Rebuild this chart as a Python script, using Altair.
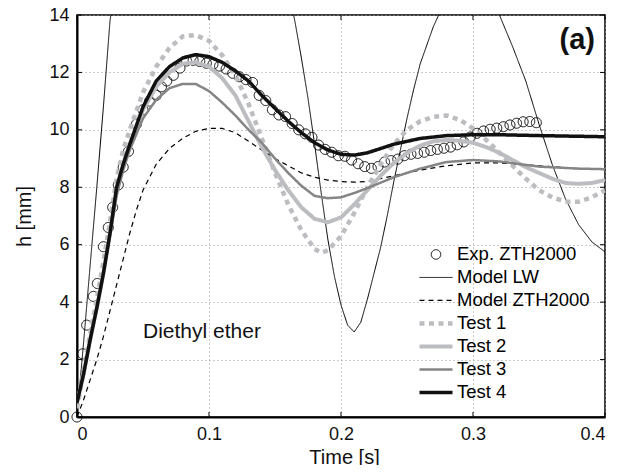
import altair as alt
import pandas as pd

# ---------------- data ----------------
series_names = ["Exp. ZTH2000", "Model LW", "Model ZTH2000", "Test 1", "Test 2", "Test 3", "Test 4"]

t_exp = [0, 0.0043, 0.0073, 0.0124, 0.0154, 0.020, 0.0237, 0.027, 0.0313, 0.035, 0.039, 0.045, 0.050,
         0.055, 0.060, 0.064, 0.068, 0.073, 0.078, 0.083, 0.088, 0.093, 0.098, 0.103, 0.108, 0.113,
         0.118, 0.123, 0.128, 0.133, 0.138, 0.143, 0.148, 0.153, 0.158, 0.163, 0.168, 0.173, 0.178,
         0.183, 0.188, 0.193, 0.198, 0.203, 0.208, 0.213, 0.218, 0.223, 0.228, 0.233, 0.238, 0.243,
         0.248, 0.253, 0.258, 0.263, 0.268, 0.273, 0.278, 0.283, 0.288, 0.293, 0.298, 0.303, 0.308,
         0.313, 0.318, 0.323, 0.328, 0.333, 0.338, 0.343, 0.348]
h_exp = [0.0, 2.2, 3.2, 4.2, 4.65, 5.93, 6.6, 7.3, 8.08, 8.7, 9.25, 10.2, 10.7,
         11.0, 11.2, 11.5, 11.7, 11.9, 12.15, 12.4, 12.42, 12.38, 12.32, 12.28, 12.22, 12.12,
         11.97, 11.85, 11.75, 11.65, 11.2, 11.02, 10.7, 10.52, 10.46, 10.22, 10.0, 9.86, 9.74,
         9.47, 9.32, 9.22, 9.1, 9.08, 8.95, 8.82, 8.72, 8.66, 8.72, 8.88, 8.93, 8.98,
         9.1, 9.15, 9.18, 9.22, 9.28, 9.32, 9.36, 9.4, 9.48, 9.58, 9.75, 9.88, 9.96,
         10.02, 10.06, 10.11, 10.17, 10.23, 10.28, 10.29, 10.25]

t_lw = [0, 0.005, 0.01, 0.015, 0.02, 0.025, 0.03, 0.04, 0.05, 0.06, 0.07, 0.08, 0.09, 0.1, 0.11,
        0.12, 0.13, 0.14, 0.15, 0.16, 0.165, 0.17, 0.175, 0.18, 0.185, 0.19, 0.195, 0.2, 0.205,
        0.21, 0.215, 0.22, 0.225, 0.23, 0.235, 0.24, 0.245, 0.25, 0.255, 0.26, 0.27, 0.28, 0.29,
        0.3, 0.31, 0.32, 0.33, 0.34, 0.35, 0.36, 0.37, 0.38, 0.39, 0.4]
h_lw = [0.0, 2.6, 5.3, 8.0, 10.8, 13.8, 15.3, 16.8, 18.0, 19.0, 19.8, 20.3, 20.5, 20.4, 20.0,
        19.4, 18.6, 17.6, 16.4, 14.9, 13.8, 12.5, 11.1, 9.5, 7.8, 6.2, 4.9, 3.9, 3.2,
        2.96, 3.3, 4.1, 5.0, 5.9, 7.0, 8.2, 9.3, 10.4, 11.4, 12.3, 13.6, 14.6, 15.1,
        15.2, 14.9, 14.0, 12.9, 11.7, 10.2, 8.8, 7.6, 6.7, 6.1, 5.75]

t_zth = [0, 0.005, 0.01, 0.015, 0.02, 0.025, 0.03, 0.035, 0.04, 0.045, 0.05, 0.06, 0.07, 0.08,
         0.09, 0.1, 0.11, 0.12, 0.13, 0.14, 0.15, 0.16, 0.17, 0.18, 0.19, 0.2, 0.21, 0.22, 0.24,
         0.26, 0.28, 0.3, 0.32, 0.35, 0.38, 0.4]
h_zth = [0.0, 0.6, 1.3, 2.0, 2.8, 3.7, 4.6, 5.5, 6.4, 7.2, 7.9, 8.8, 9.35, 9.7,
         9.95, 10.05, 10.05, 9.9, 9.6, 9.3, 9.0, 8.75, 8.5, 8.35, 8.25, 8.2, 8.18, 8.2, 8.4,
         8.6, 8.75, 8.85, 8.85, 8.75, 8.65, 8.62]

t_t1 = [0, 0.005, 0.01, 0.015, 0.02, 0.025, 0.03, 0.035, 0.04, 0.05, 0.06, 0.07, 0.08, 0.09,
        0.1, 0.11, 0.12, 0.13, 0.14, 0.15, 0.16, 0.17, 0.18, 0.185, 0.19, 0.2, 0.21, 0.22, 0.23,
        0.24, 0.25, 0.26, 0.27, 0.28, 0.29, 0.3, 0.31, 0.32, 0.33, 0.34, 0.35, 0.36, 0.37, 0.38,
        0.39, 0.4]
h_t1 = [0.3, 1.6, 2.9, 4.1, 5.4, 6.8, 8.3, 9.3, 10.0, 11.3, 12.2, 12.85, 13.25, 13.3,
        13.1, 12.6, 11.9, 10.9, 9.7, 8.5, 7.4, 6.5, 5.85, 5.72, 5.8, 6.3, 7.1, 8.0, 8.8,
        9.5, 10.0, 10.3, 10.45, 10.5, 10.35, 10.05, 9.65, 9.2, 8.75, 8.3, 7.9, 7.65, 7.5, 7.5,
        7.65, 7.9]

t_t2 = [0, 0.005, 0.01, 0.015, 0.02, 0.025, 0.03, 0.035, 0.04, 0.05, 0.06, 0.07, 0.08, 0.09,
        0.1, 0.11, 0.12, 0.13, 0.14, 0.15, 0.16, 0.17, 0.18, 0.19, 0.2, 0.21, 0.22, 0.23, 0.24,
        0.25, 0.26, 0.27, 0.28, 0.29, 0.3, 0.31, 0.32, 0.33, 0.34, 0.35, 0.36, 0.37, 0.38, 0.39,
        0.4]
h_t2 = [0.5, 1.5, 2.7, 3.8, 5.0, 6.4, 7.9, 8.8, 9.5, 10.7, 11.5, 12.0, 12.3, 12.35,
        12.2, 11.8, 11.2, 10.3, 9.4, 8.6, 7.9, 7.3, 6.9, 6.78, 6.95, 7.4, 7.9, 8.4, 8.85,
        9.2, 9.45, 9.6, 9.65, 9.62, 9.55, 9.4, 9.2, 8.95, 8.7, 8.5, 8.3, 8.15, 8.12, 8.15,
        8.25]

t_t3 = [0, 0.005, 0.01, 0.015, 0.02, 0.025, 0.03, 0.035, 0.04, 0.05, 0.06, 0.07, 0.08, 0.09,
        0.1, 0.11, 0.12, 0.13, 0.14, 0.15, 0.16, 0.17, 0.18, 0.19, 0.2, 0.21, 0.22, 0.24, 0.26,
        0.28, 0.3, 0.32, 0.35, 0.38, 0.4]
h_t3 = [0.5, 1.5, 2.7, 3.8, 5.0, 6.3, 7.7, 8.6, 9.3, 10.4, 11.05, 11.45, 11.6, 11.6,
        11.35, 10.95, 10.5, 10.0, 9.55, 9.0, 8.5, 8.05, 7.7, 7.62, 7.65, 7.8, 7.97, 8.35, 8.65,
        8.88, 8.95, 8.9, 8.72, 8.65, 8.63]

t_t4 = [0, 0.005, 0.01, 0.015, 0.02, 0.025, 0.03, 0.035, 0.04, 0.05, 0.06, 0.07, 0.08, 0.09,
        0.1, 0.11, 0.12, 0.13, 0.14, 0.15, 0.16, 0.17, 0.18, 0.19, 0.2, 0.21, 0.22, 0.24, 0.26,
        0.28, 0.3, 0.32, 0.35, 0.4]
h_t4 = [0.5, 1.5, 2.7, 3.8, 5.0, 6.4, 8.0, 8.8, 9.5, 10.8, 11.7, 12.2, 12.5, 12.62,
        12.55, 12.35, 12.05, 11.7, 11.2, 10.75, 10.3, 9.9, 9.55, 9.3, 9.15, 9.12, 9.2, 9.5, 9.7,
        9.8, 9.83, 9.83, 9.8, 9.76]

x_ticks = [0, 0.1, 0.2, 0.3, 0.4]
y_ticks = [0, 2, 4, 6, 8, 10, 12, 14]

note_text = ["Diethyl ether"]
note_t = [0.05]
note_h = [2.75]
panel_text = ["(a)"]
panel_t = [0.3924]
panel_h = [12.82]

# ---------------- styles ----------------
colors = ["#000000", "#000000", "#000000", "#bcbdc0", "#bcbdc0", "#858585", "#111111"]
dashes = [[1, 0], [1, 0], [5, 4], [5, 4.5], [1, 0], [1, 0], [1, 0]]
widths = [1, 1, 1.2, 4.5, 4, 2.5, 3.5]
FONT = "Liberation Sans"

# ---------------- frames ----------------
rows = []
for name, ts, hs in [("Model LW", t_lw, h_lw), ("Model ZTH2000", t_zth, h_zth),
                     ("Test 1", t_t1, h_t1), ("Test 2", t_t2, h_t2),
                     ("Test 3", t_t3, h_t3), ("Test 4", t_t4, h_t4)]:
    for t, h in zip(ts, hs):
        rows.append({"series": name, "t": t, "h": h})
df_lines = pd.DataFrame(rows)
df_exp = pd.DataFrame({"series": "Exp. ZTH2000", "t": t_exp, "h": h_exp})
df_xt = pd.DataFrame({"t": x_ticks})
df_yt = pd.DataFrame({"h": y_ticks})
df_note = pd.DataFrame({"t": note_t, "h": note_h, "txt": note_text})
df_panel = pd.DataFrame({"t": panel_t, "h": panel_h, "txt": panel_text})

W, H = 528, 402
xscale = alt.Scale(domain=[0, 0.4], nice=False, zero=False)
yscale = alt.Scale(domain=[0, 14], nice=False, zero=False)

xaxis = alt.Axis(values=x_ticks, format="~g", title="Time [s]", ticks=False, domainWidth=2,
                 domainColor="black", labelPadding=8, titleY=46, titleBaseline="alphabetic",
                 titleX=W / 2 + 3, grid=True)
yaxis = alt.Axis(values=y_ticks, format="~g", title="h [mm]", ticks=False, domainWidth=2,
                 domainColor="black", labelPadding=8, titleX=-53, titleY=H / 2,
                 titleBaseline="middle", titleAlign="center", titleAngle=-90, grid=True)

is_exp = "datum.value === 'Exp. ZTH2000'"
legend = alt.Legend(
    title=None, orient="none", legendX=340, legendY=228,
    symbolType=alt.ExprRef(expr=f"{is_exp} ? 'circle' : 'stroke'"),
    symbolSize=alt.ExprRef(expr=f"{is_exp} ? 90 : 1089"),
    symbolFillColor="transparent",
    labelFont=FONT, labelFontSize=18.5, labelColor="black",
    labelOffset=2, rowPadding=0, clipHeight=22.9, padding=0,
)

color_enc = alt.Color("series:N", scale=alt.Scale(domain=series_names, range=colors), legend=legend)
dash_enc = alt.StrokeDash("series:N", scale=alt.Scale(domain=series_names, range=dashes))
width_enc = alt.StrokeWidth("series:N", scale=alt.Scale(type="ordinal", domain=series_names, range=widths))

base_x = alt.X("t:Q", scale=xscale, axis=xaxis)
base_y = alt.Y("h:Q", scale=yscale, axis=yaxis)

points = alt.Chart(df_exp).mark_point(filled=False, size=100, strokeWidth=1.1, opacity=1).encode(
    x=base_x, y=base_y, color=color_enc, strokeDash=dash_enc, strokeWidth=width_enc
)
lines = alt.Chart(df_lines).mark_line(clip=True, strokeCap="butt", strokeJoin="round").encode(
    x=alt.X("t:Q", scale=xscale), y=alt.Y("h:Q", scale=yscale),
    color=color_enc, strokeDash=dash_enc, strokeWidth=width_enc,
)

tick_b = alt.Chart(df_xt).mark_rule(color="black", strokeWidth=1).encode(
    x=alt.X("t:Q", scale=xscale), y=alt.value(H - 5), y2=alt.value(H))
tick_t = alt.Chart(df_xt).mark_rule(color="black", strokeWidth=1).encode(
    x=alt.X("t:Q", scale=xscale), y=alt.value(0), y2=alt.value(5))
tick_l = alt.Chart(df_yt).mark_rule(color="black", strokeWidth=1).encode(
    y=alt.Y("h:Q", scale=yscale), x=alt.value(0), x2=alt.value(5))
tick_r = alt.Chart(df_yt).mark_rule(color="black", strokeWidth=1).encode(
    y=alt.Y("h:Q", scale=yscale), x=alt.value(W - 5), x2=alt.value(W))

note = alt.Chart(df_note).mark_text(font=FONT, fontSize=21, align="left", baseline="alphabetic",
                                    color="#111").encode(
    x=alt.X("t:Q", scale=xscale), y=alt.Y("h:Q", scale=yscale), text="txt:N")
panel = alt.Chart(df_panel).mark_text(font=FONT, fontSize=29, fontWeight="bold", align="right",
                                      baseline="alphabetic", color="#111").encode(
    x=alt.X("t:Q", scale=xscale), y=alt.Y("h:Q", scale=yscale), text="txt:N")

chart = alt.layer(points, lines, tick_b, tick_t, tick_l, tick_r, note, panel).properties(
    width=W, height=H,
    background="white",
    autosize=alt.AutoSizeParams(type="none"),
    padding={"left": 69, "top": 7, "right": 16, "bottom": 48},
).configure_view(
    stroke="black", strokeWidth=1.5
).configure_axis(
    labelFont=FONT, labelFontSize=18, labelColor="#111", titleFont=FONT, titleFontSize=20,
    titleFontWeight="normal", titleColor="#111", gridColor="#9a9a9a", gridDash=[1, 3],
    gridWidth=1, gridOpacity=1
)

chart.save("out.html", embed_options={"renderer": "svg", "actions": False})
